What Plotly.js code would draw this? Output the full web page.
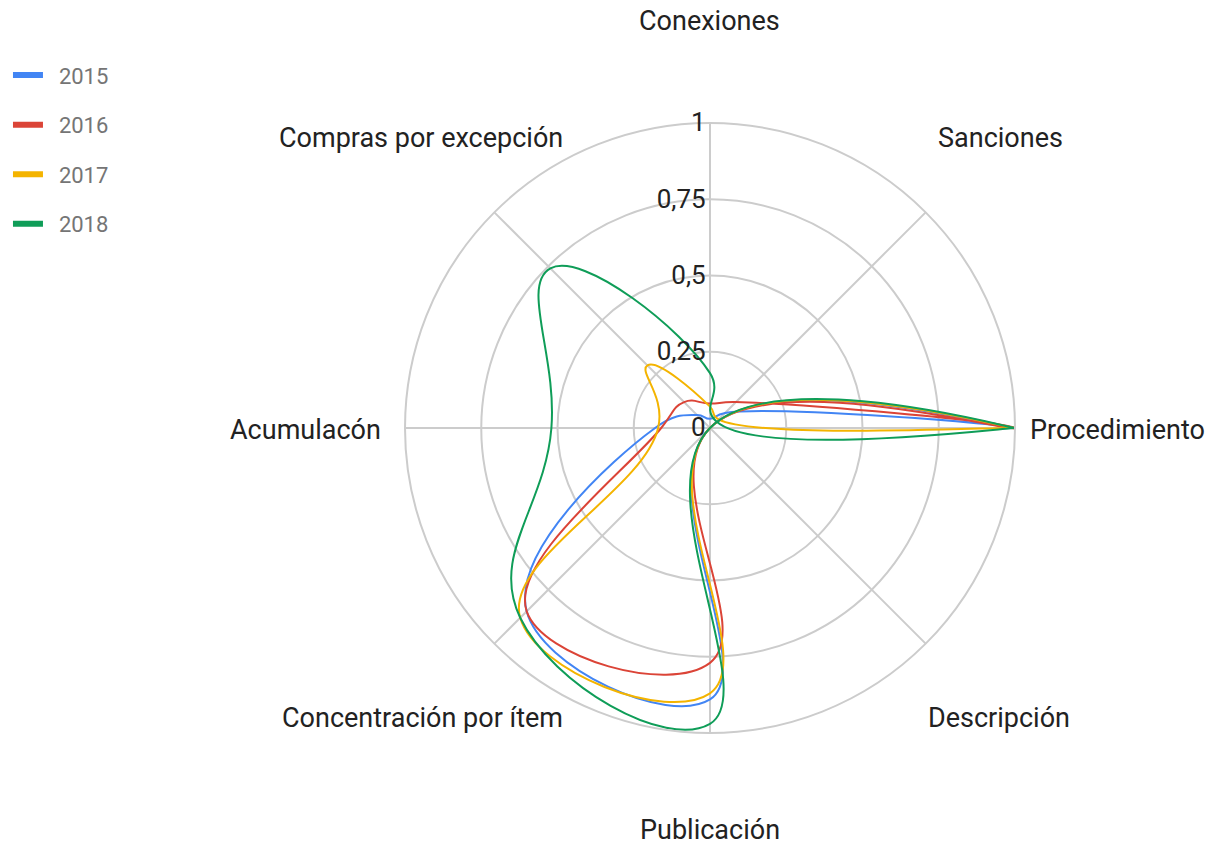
<!DOCTYPE html>
<html>
<head>
<meta charset="utf-8">
<script src="https://cdn.plot.ly/plotly-3.0.1.min.js"></script>
<style>
  html, body { margin: 0; padding: 0; background: #fff; }
  #chart { width: 1208px; height: 848px; }
</style>
</head>
<body>
<div id="chart"></div>
<script>
const categories = ["Conexiones", "Sanciones", "Procedimiento", "Descripción", "Publicación", "Concentración por ítem", "Acumulacón", "Compras por excepción"];
const years = ["2015", "2016", "2017", "2018"];
const values2015 = [0.03, 0.07, 1.0, 0.0, 0.89, 0.85, 0.18, 0.06];
const values2016 = [0.08, 0.12, 1.0, 0.0, 0.77, 0.85, 0.16, 0.12];
const values2017 = [0.07, 0.04, 1.0, 0.0, 0.87, 0.88, 0.17, 0.29];
const values2018 = [0.18, 0.03, 1.0, 0.0, 0.97, 0.88, 0.52, 0.74];
const radialTicks = [0, 0.25, 0.5, 0.75, 1];
const radialTickText = ["0", "0,25", "0,5", "0,75", "1"];

const seriesValues = [values2015, values2016, values2017, values2018];
const colors = ["#4285F4", "#DB4437", "#F4B400", "#0F9D58"];

const traces = seriesValues.map((vals, i) => ({
  type: "scatterpolar",
  mode: "lines",
  r: vals.concat([vals[0]]),
  theta: categories.concat([categories[0]]),
  name: years[i],
  showlegend: false,
  line: { color: colors[i], width: 2, shape: "spline", smoothing: 1.3 },
  hoverinfo: "skip"
}));

// legend entries with thicker swatches (single point: draws no visible line)
const legendTraces = seriesValues.map((vals, i) => ({
  type: "scatterpolar",
  mode: "lines",
  r: [vals[0]], theta: [categories[0]],
  name: "\u00a0\u00a0" + years[i],
  legendgroup: years[i],
  showlegend: true,
  line: { color: colors[i], width: 6 },
  hoverinfo: "skip"
}));

// label positions (layout only)
const labelPos = [
  [710, 21], [1000, 138], [1117, 430], [999, 718],
  [710, 830], [422, 718], [305, 430], [421, 138]
];
const W = 1208, H = 848;
const annotations = categories.map((c, i) => ({
  text: c, xref: "paper", yref: "paper",
  x: labelPos[i][0] / W, y: 1 - labelPos[i][1] / H,
  xanchor: "center", yanchor: "middle", showarrow: false,
  font: { family: "Roboto, sans-serif", size: 27, color: "#222222" }
}));

const layout = {
  width: W, height: H,
  margin: { l: 0, r: 0, t: 0, b: 0 },
  paper_bgcolor: "#ffffff",
  showlegend: true,
  legend: {
    x: 0.0066, y: 0.936, xanchor: "left", yanchor: "top",
    font: { family: "Roboto, sans-serif", size: 22, color: "#757575" },
    traceorder: "grouped", tracegroupgap: 18, itemwidth: 30
  },
  annotations: annotations,
  polar: {
    domain: { x: [405 / W, 1015 / W], y: [1 - 733 / H, 1 - 123 / H] },
    bgcolor: "#ffffff",
    radialaxis: {
      range: [0, 1], angle: 90, side: "counterclockwise",
      tickvals: radialTicks, ticktext: radialTickText,
      showline: false, ticks: "",
      gridcolor: "#cccccc", gridwidth: 2,
      tickfont: { family: "Roboto, sans-serif", size: 26, color: "#222222" },
      tickangle: 90
    },
    angularaxis: {
      direction: "clockwise", rotation: 90,
      showticklabels: false, ticks: "",
      showline: true, linecolor: "#cccccc", linewidth: 2,
      gridcolor: "#cccccc", gridwidth: 2
    }
  }
};

Plotly.newPlot("chart", traces.concat(legendTraces), layout, { displayModeBar: false, staticPlot: true });
</script>
</body>
</html>
